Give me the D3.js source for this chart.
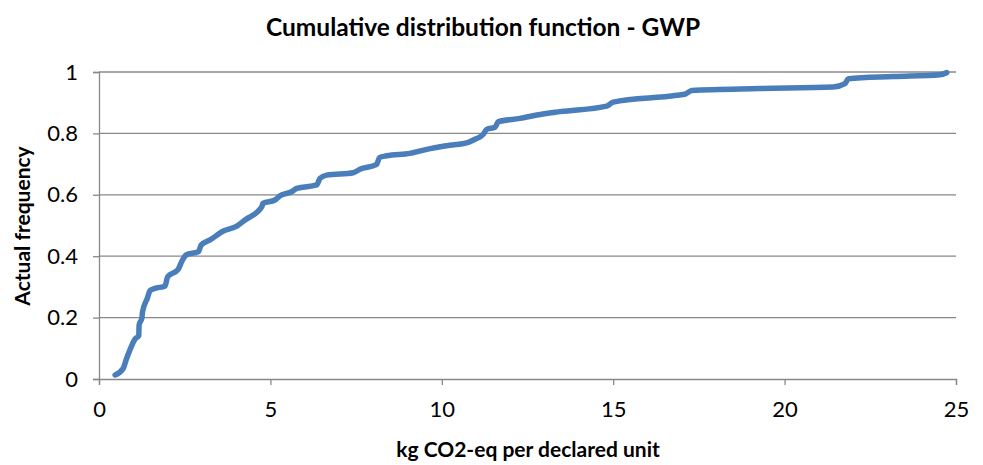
<!DOCTYPE html>
<html>
<head>
<meta charset="utf-8">
<script src="https://cdn.jsdelivr.net/npm/d3@7"></script>
<style>
  body { margin: 0; background: #fff; }
  text { font-family: Lato, "Open Sans", sans-serif; fill: #000; }
</style>
</head>
<body>
<svg id="chart" width="983" height="465"></svg>
<script>
// values (kg CO2-eq, cumulative frequency)
const gwp = [0.47, 0.71, 0.79, 0.90, 1.05, 1.16, 1.17, 1.25, 1.27, 1.41, 1.49, 1.63, 1.93, 2.00,
  2.31, 2.41, 2.54, 2.90, 2.98, 3.24, 3.63, 4.02, 4.26, 4.75, 4.78, 5.13, 5.28, 5.62, 5.77,
  6.35, 6.45, 6.64, 7.42, 7.61, 8.10, 8.18, 8.39, 9.07, 9.56, 10.14, 10.77, 10.97, 11.21,
  11.31, 11.55, 11.65, 12.28, 12.77, 13.45, 14.81, 15.00, 16.85, 17.12, 17.29, 19.28,
  21.42, 21.76, 21.86, 23.17, 24.53, 24.73];
const freq = [0.013, 0.035, 0.062, 0.094, 0.130, 0.141, 0.176, 0.198, 0.219, 0.263, 0.288,
  0.295, 0.303, 0.333, 0.357, 0.382, 0.404, 0.415, 0.436, 0.453, 0.482, 0.498, 0.518,
  0.561, 0.572, 0.583, 0.597, 0.610, 0.621, 0.632, 0.654, 0.664, 0.672, 0.683, 0.699,
  0.721, 0.727, 0.735, 0.748, 0.760, 0.771, 0.781, 0.797, 0.813, 0.820, 0.838, 0.849,
  0.860, 0.871, 0.889, 0.902, 0.924, 0.929, 0.940, 0.946, 0.951, 0.962, 0.978, 0.985,
  0.991, 0.998];
const xTicks = [0, 5, 10, 15, 20, 25];
const yTicks = [0, 0.2, 0.4, 0.6, 0.8, 1];

const svg = d3.select("#chart");
const plotL = 99, plotR = 956, plotT = 72, plotB = 379;

const x = d3.scaleLinear().domain([0, 25]).range([plotL, plotR]);
const y = d3.scaleLinear().domain([0, 1]).range([plotB, plotT]);

// horizontal gridlines
svg.append("g")
  .selectAll("line")
  .data(yTicks.filter((d) => d > 0))
  .enter().append("line")
  .attr("x1", plotL).attr("x2", plotR)
  .attr("y1", (d) => y(d)).attr("y2", (d) => y(d))
  .style("stroke", "#888").style("stroke-width", 1.3);

// axes
const xAxis = svg.append("g")
  .attr("transform", `translate(0,${plotB})`)
  .call(d3.axisBottom(x).tickValues(xTicks).tickSize(6).tickPadding(16).tickFormat(d3.format("d")));
const yAxis = svg.append("g")
  .attr("transform", `translate(${plotL},0)`)
  .call(d3.axisLeft(y).tickValues(yTicks).tickSize(6).tickPadding(15).tickFormat((d) => d3.format("")(d)));

[xAxis, yAxis].forEach((a) => {
  a.select(".domain").style("stroke", "#888").style("stroke-width", 1.3);
  a.selectAll(".tick line").style("stroke", "#888").style("stroke-width", 1.3);
  a.selectAll(".tick text").style("font-size", "22px").style("font-family", "Lato, sans-serif");
});

// cdf curve
const pts = gwp.map((v, i) => [v, freq[i]]);
svg.append("path")
  .datum(pts)
  .attr("fill", "none")
  .style("stroke", "#4a7ebb")
  .style("stroke-width", 5.5)
  .style("stroke-linecap", "round")
  .style("stroke-linejoin", "round")
  .attr("d", d3.line()
    .x((d) => x(d[0]))
    .y((d) => y(d[1]))
    .curve(d3.curveMonotoneX));

// titles
svg.append("text")
  .attr("x", 483).attr("y", 36)
  .attr("text-anchor", "middle")
  .style("font-size", "24.5px").style("font-weight", "bold")
  .text("Cumulative distribution function - GWP");

svg.append("text")
  .attr("x", 528).attr("y", 457)
  .attr("text-anchor", "middle")
  .style("font-size", "21px").style("font-weight", "bold")
  .text("kg CO2-eq per declared unit");

svg.append("text")
  .attr("transform", "translate(30,226) rotate(-90)")
  .attr("text-anchor", "middle")
  .style("font-size", "21px").style("font-weight", "bold")
  .text("Actual frequency");
</script>
</body>
</html>
